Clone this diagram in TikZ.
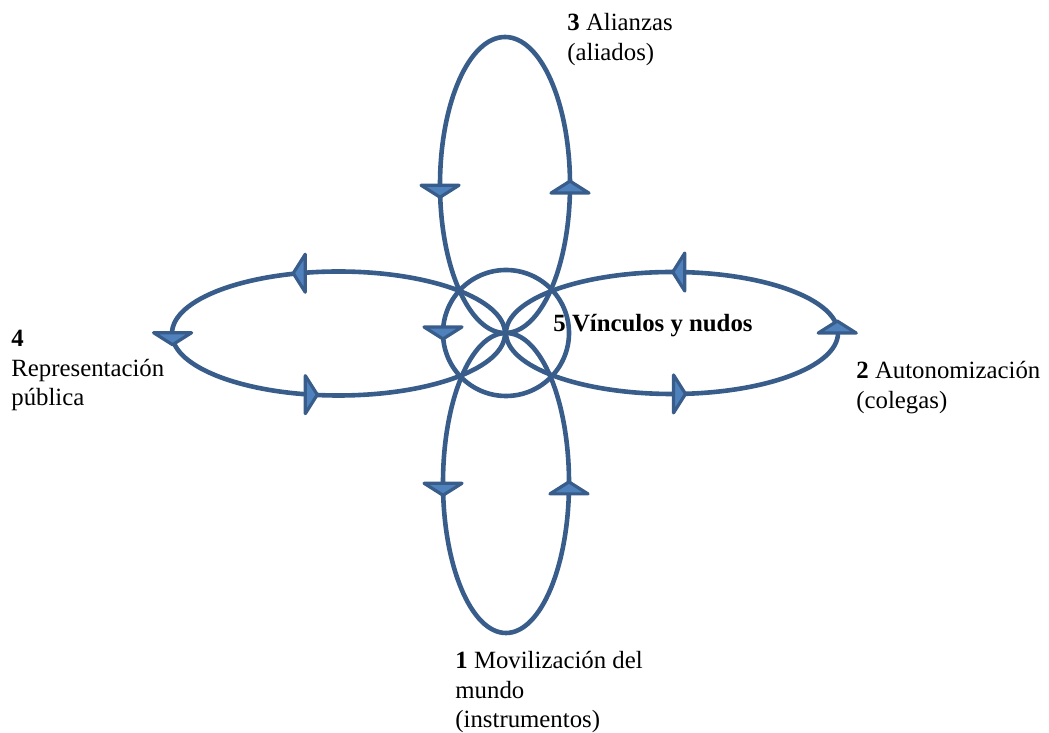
\documentclass[tikz,border=0pt]{standalone}
\usepackage{fontspec}
\setmainfont{Liberation Serif}
\usepackage{tikz}
\usetikzlibrary{decorations.markings}

\definecolor{loopblue}{HTML}{385D8A}
\definecolor{tipblue}{HTML}{4F81BD}
\newcommand{\labelfont}{\rmfamily\fontsize{12.4}{14.8}\selectfont}
% flat triangular head centred on the mark, pointing at angle #1
\newcommand{\flowhead}[1]{\pgftransformresetnontranslations
  \filldraw[fill=tipblue, line width=1.6pt, line join=round, rotate=#1]
  (3pt,0pt) -- (-3pt,9.5pt) -- (-3pt,-9.5pt) -- cycle;}

\begin{document}
\begin{tikzpicture}[x=0.5pt, y=0.5pt,
  loop/.style={loopblue, line width=2.3pt, postaction=decorate},
  lbl/.style={anchor=north west, inner sep=0pt, align=left, font=\labelfont},
]
  \useasboundingbox (0,0) rectangle (1049,733);

  % centres of the loops
  \coordinate (knot)  at (506,400);
  \coordinate (up)    at (505,548);
  \coordinate (down)  at (506,250);
  \coordinate (west)  at (338.5,399.5);
  \coordinate (east)  at (672,400);

  % Knot circle
  \draw[loop, decoration={markings,
      mark=at position 0.5 with {\flowhead{-90}}}]
    (knot) circle [radius=63];

  % Alliances (top)
  \draw[loop, decoration={markings,
      mark=at position 0.509 with {\flowhead{-90}},
      mark=at position 0.997 with {\flowhead{90}}}]
    (up) ellipse [x radius=65, y radius=148];

  % Mobilization (bottom)
  \draw[loop, decoration={markings,
      mark=at position 0.509 with {\flowhead{-90}},
      mark=at position 0.993 with {\flowhead{90}}}]
    (down) ellipse [x radius=63, y radius=150];

  % Public representation (left)
  \draw[loop, decoration={markings,
      mark=at position 0.302 with {\flowhead{180}},
      mark=at position 0.507 with {\flowhead{-90}},
      mark=at position 0.714 with {\flowhead{0}}}]
    (west) ellipse [x radius=166.5, y radius=62];

  % Autonomization (right)
  \draw[loop, decoration={markings,
      mark=at position 0.008 with {\flowhead{90}},
      mark=at position 0.241 with {\flowhead{180}},
      mark=at position 0.760 with {\flowhead{0}}}]
    (east) ellipse [x radius=166, y radius=61];

  % Labels
  \node[lbl] (alianzas) at (567,720) {\textbf{3} Alianzas\\(aliados)};
  \node[lbl, anchor=base west] (vinculos) at (553,401) {\textbf{5 Vínculos y nudos}};
  \node[lbl] (autonom) at (856,372) {\textbf{2} Autonomización\\(colegas)};
  \node[lbl] (moviliz) at (455,82) {\textbf{1} Movilización del\\mundo\\(instrumentos)};
  \node[lbl] (repres) at (11,403) {\textbf{4}\\Representación\\pública};
\end{tikzpicture}
\end{document}
